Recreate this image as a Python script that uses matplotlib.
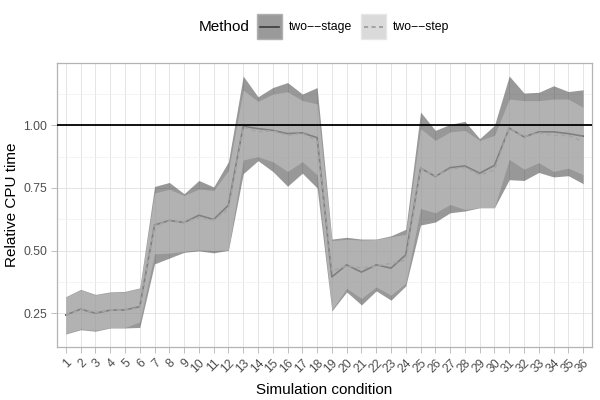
import matplotlib
matplotlib.use("Agg")
import matplotlib.pyplot as plt
from matplotlib.patches import Rectangle
from matplotlib.lines import Line2D
import numpy as np

plt.rcParams['font.family'] = ['Liberation Sans', 'DejaVu Sans']

conditions = list(range(1, 37))
methods = ['two\u2212\u2212stage', 'two\u2212\u2212step']

# two--stage: mean and interval
stage_mid = [0.243, 0.266, 0.250, 0.262, 0.263, 0.276, 0.602, 0.620, 0.612, 0.641, 0.624, 0.681,
             0.996, 0.987, 0.980, 0.967, 0.970, 0.951, 0.395, 0.443, 0.414, 0.443, 0.430, 0.483,
             0.829, 0.796, 0.831, 0.838, 0.809, 0.840, 0.989, 0.954, 0.974, 0.974, 0.967, 0.957]
stage_hi = [0.316, 0.345, 0.325, 0.335, 0.337, 0.351, 0.756, 0.772, 0.727, 0.780, 0.754, 0.855,
            1.197, 1.114, 1.151, 1.171, 1.125, 1.151, 0.546, 0.553, 0.546, 0.546, 0.559, 0.585,
            1.053, 0.980, 1.004, 1.016, 0.947, 1.000, 1.197, 1.129, 1.132, 1.158, 1.135, 1.142]
stage_lo = [0.167, 0.184, 0.178, 0.191, 0.191, 0.193, 0.447, 0.470, 0.493, 0.499, 0.491, 0.501,
            0.807, 0.859, 0.816, 0.757, 0.809, 0.750, 0.259, 0.335, 0.283, 0.339, 0.302, 0.359,
            0.602, 0.614, 0.651, 0.658, 0.671, 0.671, 0.783, 0.780, 0.812, 0.794, 0.799, 0.767]

# two--step: mean and interval
step_mid = [0.243, 0.264, 0.252, 0.263, 0.262, 0.272, 0.600, 0.618, 0.612, 0.632, 0.622, 0.665,
            0.992, 0.975, 0.978, 0.960, 0.968, 0.937, 0.418, 0.440, 0.430, 0.440, 0.448, 0.462,
            0.827, 0.798, 0.825, 0.832, 0.802, 0.822, 0.990, 0.955, 0.970, 0.960, 0.960, 0.935]
step_hi = [0.314, 0.343, 0.323, 0.333, 0.335, 0.349, 0.730, 0.745, 0.720, 0.746, 0.740, 0.820,
           1.141, 1.096, 1.125, 1.134, 1.099, 1.086, 0.540, 0.545, 0.542, 0.544, 0.555, 0.565,
           0.987, 0.940, 0.974, 0.980, 0.940, 0.960, 1.105, 1.099, 1.099, 1.105, 1.105, 1.072]
step_lo = [0.170, 0.187, 0.181, 0.193, 0.193, 0.215, 0.487, 0.490, 0.497, 0.503, 0.500, 0.503,
           0.862, 0.875, 0.855, 0.816, 0.855, 0.803, 0.263, 0.349, 0.309, 0.355, 0.322, 0.370,
           0.668, 0.651, 0.684, 0.664, 0.672, 0.672, 0.864, 0.825, 0.851, 0.816, 0.829, 0.803]

W, H = 600, 400
fig = plt.figure(figsize=(6, 4), dpi=100)
ax = fig.add_axes([57/W, 1-347/H, (592-57)/W, (347-63)/H])

x = np.array(conditions)
# lines first, ribbons drawn over them
ax.plot(x, stage_mid, color='#333333', lw=1.2, zorder=2)
ax.plot(x, step_mid, color='#cccccc', lw=1.2, ls=(0, (2.5, 2)), zorder=2)
ax.fill_between(x, stage_lo, stage_hi, color='#333333', alpha=0.5, lw=0, zorder=3)
ax.fill_between(x, step_lo, step_hi, color='#cccccc', alpha=0.5, lw=0, zorder=4)
ax.axhline(1.0, color='black', lw=1.3, zorder=5)

ax.set_xlim(0.4, 36.6)
ax.set_ylim(0.115, 1.249)
ax.set_xticks(x)
ax.set_xticklabels([str(c) for c in conditions], rotation=45, ha='right',
                   rotation_mode='anchor', fontsize=8.8, color='#4d4d4d')
ax.set_yticks([0.25, 0.50, 0.75, 1.00])
ax.set_yticklabels(['0.25', '0.50', '0.75', '1.00'], fontsize=8.8, color='#4d4d4d')
ax.set_yticks([0.375, 0.625, 0.875, 1.125], minor=True)
ax.tick_params(axis='both', which='major', length=4, width=0.6, color='#b3b3b3', pad=3)
ax.tick_params(axis='y', which='minor', length=0)
ax.grid(True, which='major', color='#e0e0e0', lw=0.6, zorder=0)
ax.grid(True, which='minor', axis='y', color='#f0f0f0', lw=0.5, zorder=0)
ax.set_axisbelow(True)
for s in ax.spines.values():
    s.set_color('#b3b3b3')
    s.set_linewidth(0.9)

ax.set_xlabel('Simulation condition', fontsize=11, labelpad=6)
ax.set_ylabel('Relative CPU time', fontsize=11, labelpad=3)

# legend on top, drawn as keys + text
yc = 1 - 27/H
fig.text(199/W, yc, 'Method', fontsize=11, ha='left', va='center')
keys = [(257, '#9a9a9a', '#b0b0b0', '#3a3a3a', '-'),
        (361, '#dadada', '#e6e6e6', '#999999', (0, (2.5, 2)))]
for (kx, fc, ec, lc, ls), name in zip(keys, methods):
    fig.add_artist(Rectangle((kx/W, 1-39/H), 25/W, 25/H, facecolor=fc, edgecolor=ec,
                             lw=1, transform=fig.transFigure))
    fig.add_artist(Line2D([(kx+3)/W, (kx+22)/W], [yc, yc], color=lc, lw=1.2, ls=ls,
                          transform=fig.transFigure))
    fig.text((kx+32)/W, yc, name, fontsize=8.8, ha='left', va='center')

fig.savefig('out.png', dpi=100)
